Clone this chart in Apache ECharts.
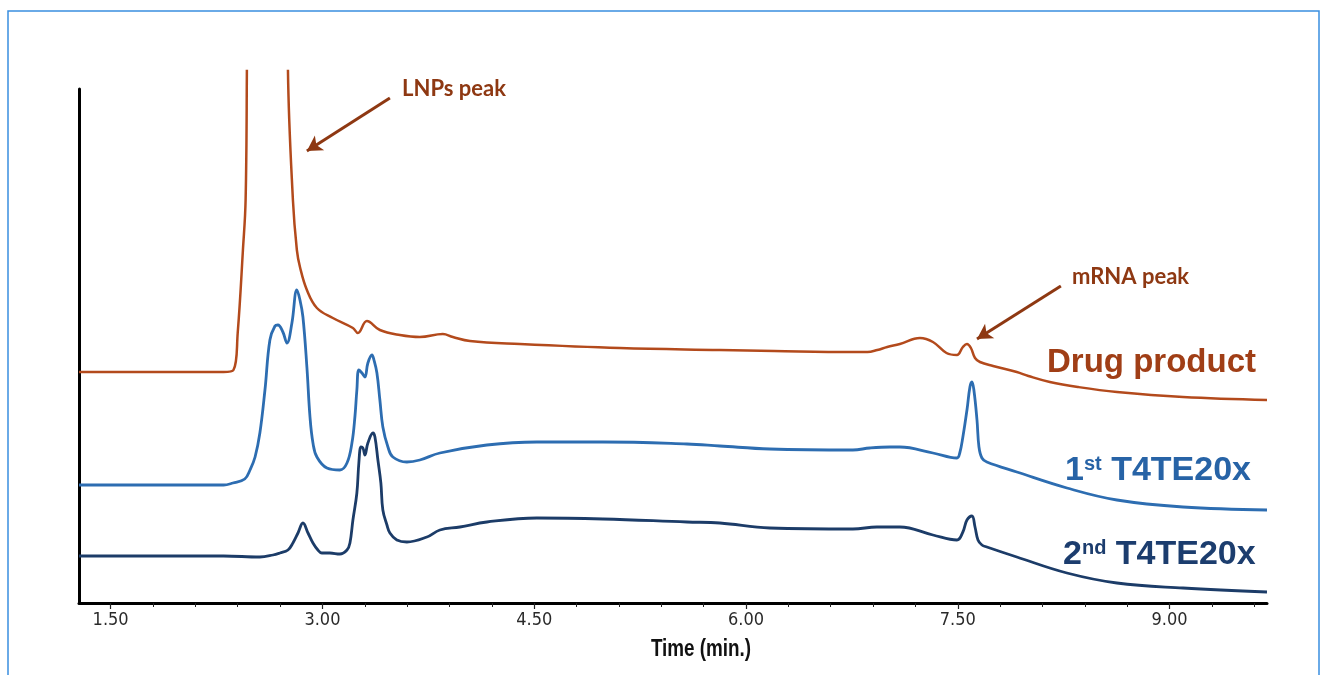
<!DOCTYPE html>
<html>
<head>
<meta charset="utf-8">
<script src="https://cdn.jsdelivr.net/npm/echarts@6/dist/echarts.min.js"></script>
<style>html,body{margin:0;padding:0;background:#fff}#c{width:1322px;height:675px}</style>
</head>
<body>
<div id="c"></div>
<script>
// ---- data (time in min, signal in arbitrary units) ----
var dpTime = [1.276, 1.8, 2.3, 2.37, 2.40, 2.437, 2.456, 2.465, 2.475, 2.61, 2.745, 2.756, 2.791, 2.819, 2.841, 2.89, 2.961, 3.074, 3.216, 3.251, 3.315, 3.407, 3.549, 3.69, 3.853, 3.924, 4.045, 4.399, 5.107, 5.815, 6.2, 6.757, 6.86, 6.93, 7.0, 7.09, 7.232, 7.324, 7.42, 7.494, 7.536, 7.565, 7.593, 7.622, 7.657, 7.75, 7.918, 8.0, 8.152, 8.35, 8.627, 9.095, 9.69];
var dpSignal = [231, 231, 231, 233, 270, 353, 403, 532, 800, 1500, 800, 532, 403, 353, 336, 313, 295, 285, 275, 270, 282, 273, 268, 266, 269, 266, 262, 259, 255, 253, 252, 251, 251, 253, 256, 259, 265, 261, 250, 248, 256, 259, 255, 245, 241, 237, 231, 227, 221, 216, 211, 206, 203];

var t1Time = [1.276, 2.0, 2.3, 2.366, 2.45, 2.487, 2.523, 2.557, 2.593, 2.628, 2.664, 2.685, 2.720, 2.749, 2.784, 2.819, 2.841, 2.862, 2.890, 2.912, 2.933, 2.961, 3.032, 3.124, 3.174, 3.209, 3.23, 3.244, 3.258, 3.280, 3.301, 3.322, 3.351, 3.365, 3.386, 3.407, 3.428, 3.464, 3.499, 3.598, 3.69, 3.832, 4.165, 4.519, 4.987, 5.582, 5.815, 6.169, 6.757, 6.877, 7.019, 7.09, 7.324, 7.494, 7.514, 7.536, 7.565, 7.586, 7.600, 7.614, 7.636, 7.650, 7.671, 7.706, 7.918, 8.273, 8.627, 9.095, 9.69];
var t1Signal = [118, 118, 118, 120, 124, 133, 146, 170, 213, 263, 277, 278, 271, 260, 280, 313, 303, 286, 236, 186, 160, 146, 135, 133, 140, 160, 186, 213, 233, 230, 226, 240, 248, 243, 230, 203, 176, 156, 146, 141, 143, 150, 158, 161, 161, 159, 157, 154, 153, 155, 156, 156, 150, 145, 150, 166, 193, 216, 221, 213, 183, 156, 145, 141, 131, 115, 103, 96, 93];

var t2Time = [1.276, 2.3, 2.557, 2.65, 2.699, 2.756, 2.791, 2.827, 2.862, 2.898, 2.933, 2.968, 2.996, 3.053, 3.124, 3.174, 3.195, 3.216, 3.244, 3.258, 3.273, 3.287, 3.301, 3.322, 3.358, 3.372, 3.393, 3.414, 3.428, 3.457, 3.478, 3.527, 3.598, 3.74, 3.832, 3.974, 4.165, 4.519, 4.987, 5.582, 5.815, 6.169, 6.757, 6.927, 7.019, 7.09, 7.324, 7.494, 7.536, 7.565, 7.600, 7.622, 7.643, 7.671, 7.706, 7.918, 8.273, 8.627, 9.095, 9.69];
var t2Signal = [47, 47, 46, 48, 50, 53, 60, 70, 80, 70, 60, 53, 50, 50, 49, 53, 60, 83, 110, 140, 156, 155, 148, 160, 170, 166, 143, 120, 93, 78, 70, 63, 61, 66, 73, 76, 81, 85, 84, 81, 80, 75, 74, 76, 76, 76, 68, 63, 71, 83, 87, 76, 63, 58, 56, 46, 30, 20, 15, 11];

var xLabelTicks = [1.5, 3.0, 4.5, 6.0, 7.5, 9.0];
var xMinorTicks = [1.8, 2.1, 2.4, 2.7, 3.3, 3.6, 3.9, 4.2, 4.8, 5.1, 5.4, 5.7, 6.3, 6.6, 6.9, 7.2, 7.8, 8.1, 8.4, 8.7, 9.3, 9.6];
var xMin = 1.276, xMax = 9.69;
var yMax = 532;

// annotation arrows: [from, to] in (time, signal)
var lnpArrow = [[3.478, 505], [2.890, 452]];
var mrnaArrow = [[8.230, 317], [7.636, 264]];

function zip(a, b) { return a.map(function (v, i) { return [v, b[i]]; }); }

var cOrange = '#B34A1C', cBlue = '#2D6DB1', cNavy = '#1C3C68', cArrow = '#8E3812';
var tickFont = '"DejaVu Sans Condensed","Liberation Sans",sans-serif';

var chart = echarts.init(document.getElementById('c'), null, {renderer: 'canvas'});
chart.setOption({
  animation: false,
  backgroundColor: '#fff',
  grid: [
    {left: 79, right: 55, top: 71, bottom: 72},
    {left: 79, right: 55, top: 89, bottom: 72}
  ],
  xAxis: [{
    type: 'value', gridIndex: 0, min: xMin, max: xMax,
    axisLine: {show: true, lineStyle: {color: '#000', width: 3}},
    axisTick: {show: true, customValues: xLabelTicks, length: 6, lineStyle: {color: '#222', width: 1.2}},
    axisLabel: {show: true, customValues: xLabelTicks, margin: 8, color: '#2a2a2a', fontSize: 18, fontFamily: tickFont,
      formatter: function (v) { return v.toFixed(2); }},
    splitLine: {show: false}
  }, {
    type: 'value', gridIndex: 1, min: xMin, max: xMax,
    axisLine: {show: false},
    axisTick: {show: true, customValues: xMinorTicks, length: 4, lineStyle: {color: '#222', width: 1}},
    axisLabel: {show: false},
    splitLine: {show: false}
  }],
  yAxis: [{
    type: 'value', gridIndex: 0, min: 0, max: yMax, show: false
  }, {
    type: 'value', gridIndex: 1, min: 0, max: 1,
    axisLine: {show: true, lineStyle: {color: '#000', width: 3}},
    axisTick: {show: false}, axisLabel: {show: false}, splitLine: {show: false}
  }],
  series: [{
    name: 'Drug product', type: 'line', data: zip(dpTime, dpSignal),
    showSymbol: false, smooth: 0.4, clip: true,
    lineStyle: {color: cOrange, width: 2.5},
    markLine: {
      silent: true, symbol: ['none', 'arrow'], symbolSize: [13, 15],
      lineStyle: {color: cArrow, width: 3, type: 'solid'},
      label: {show: false},
      data: [
        [{coord: lnpArrow[0]}, {coord: lnpArrow[1]}],
        [{coord: mrnaArrow[0]}, {coord: mrnaArrow[1]}]
      ]
    }
  }, {
    name: '1st T4TE20x', type: 'line', data: zip(t1Time, t1Signal),
    showSymbol: false, smooth: 0.4,
    lineStyle: {color: cBlue, width: 2.8}
  }, {
    name: '2nd T4TE20x', type: 'line', data: zip(t2Time, t2Signal),
    showSymbol: false, smooth: 0.4,
    lineStyle: {color: cNavy, width: 2.8}
  }],
  graphic: [
    {type: 'rect', silent: true, shape: {x: 8, y: 11, width: 1311, height: 700},
      style: {fill: 'none', stroke: '#3A8EE0', lineWidth: 1.5}},
    {type: 'text', x: 701, y: 650, scaleX: 0.82, style: {text: 'Time (min.)', fill: '#111', font: 'bold 23px "Liberation Sans", Arial, sans-serif', align: 'center', verticalAlign: 'middle'}},
    {type: 'text', x: 402, y: 89, style: {text: 'LNPs peak', fill: cArrow, font: 'bold 22px Lato, "Open Sans", sans-serif', align: 'left', verticalAlign: 'middle'}},
    {type: 'text', x: 1072, y: 277, style: {text: 'mRNA peak', fill: cArrow, font: 'bold 22px Lato, "Open Sans", sans-serif', align: 'left', verticalAlign: 'middle'}},
    {type: 'text', x: 1047, y: 363, style: {text: 'Drug product', fill: '#A03E16', font: 'bold 33px "Liberation Sans", Arial, sans-serif', align: 'left', verticalAlign: 'middle'}},
    {type: 'text', x: 1065, y: 471, style: {text: '{a|1}{s|st}{a| T4TE20x}', align: 'left', verticalAlign: 'middle',
      rich: {a: {fontSize: 34, fontWeight: 'bold', fontFamily: '"Liberation Sans", Arial, sans-serif', fill: '#2763A6'},
             s: {fontSize: 20, fontWeight: 'bold', fontFamily: '"Liberation Sans", Arial, sans-serif', fill: '#2763A6', verticalAlign: 'top'}}}},
    {type: 'text', x: 1063, y: 555, style: {text: '{a|2}{s|nd}{a| T4TE20x}', align: 'left', verticalAlign: 'middle',
      rich: {a: {fontSize: 34, fontWeight: 'bold', fontFamily: '"Liberation Sans", Arial, sans-serif', fill: '#1C3D6E'},
             s: {fontSize: 20, fontWeight: 'bold', fontFamily: '"Liberation Sans", Arial, sans-serif', fill: '#1C3D6E', verticalAlign: 'top'}}}}
  ]
});
</script>
</body>
</html>
